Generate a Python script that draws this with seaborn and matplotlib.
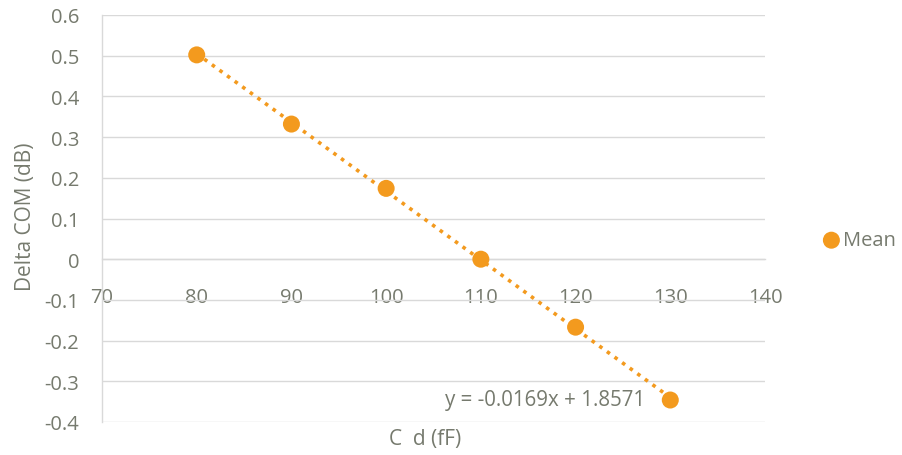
import matplotlib
matplotlib.use("Agg")
import matplotlib.pyplot as plt
import seaborn as sns
import numpy as np
import pandas as pd

cd_ff = [80, 90, 100, 110, 120, 130]
delta_com = [0.502, 0.332, 0.174, 0.0, -0.167, -0.346]
slope = -0.0169
intercept = 1.8571
x_ticks = [70, 80, 90, 100, 110, 120, 130, 140]
y_ticks = [-0.4, -0.3, -0.2, -0.1, 0, 0.1, 0.2, 0.3, 0.4, 0.5, 0.6]
y_tick_labels = ["-0.4", "-0.3", "-0.2", "-0.1", "0", "0.1", "0.2", "0.3", "0.4", "0.5", "0.6"]

sns.set_style("white")
plt.rcParams['font.family'] = ['Open Sans', 'DejaVu Sans']

txt = '#767a6e'
orange = '#F39A1E'
grid = '#d9d9d9'
fs = 14.5

df = pd.DataFrame({"C d (fF)": cd_ff, "Delta COM (dB)": delta_com})
trend = pd.DataFrame({"x": [cd_ff[0], cd_ff[-1]]})
trend["y"] = slope * trend["x"] + intercept

fig = plt.figure(figsize=(9.02, 4.56), dpi=100)
ax = fig.add_axes([102/902, 33/456, 663/902, 407/456])

sns.lineplot(data=trend, x="x", y="y", ax=ax, color=orange, linestyle=(0, (1, 1.6)),
             linewidth=2.6, legend=False, zorder=3)
sns.scatterplot(data=df, x="C d (fF)", y="Delta COM (dB)", ax=ax, color=orange, s=150,
                edgecolor='none', label="Mean", zorder=4)

ax.set_xlim(70, 140)
ax.set_ylim(-0.4, 0.6)
ax.set_xticks(x_ticks)
ax.set_xticklabels([str(v) for v in x_ticks])
ax.set_yticks(y_ticks)
ax.set_yticklabels(y_tick_labels)
ax.yaxis.grid(True, color=grid, linewidth=1)
ax.set_axisbelow(True)

for s in ['top', 'right']:
    ax.spines[s].set_visible(False)
ax.spines['bottom'].set_position(('data', 0))
ax.spines['bottom'].set_color(grid)
ax.spines['left'].set_color(grid)
ax.spines['bottom'].set_linewidth(1)
ax.spines['left'].set_linewidth(1)

ax.tick_params(axis='both', length=0, labelsize=fs, labelcolor=txt)
ax.tick_params(axis='x', pad=20)
ax.tick_params(axis='y', pad=16.5)

ax.set_xlabel("")
ax.set_ylabel("")
fig.text(425/902, 1 - 440/456, "C  d (fF)", ha='center', va='center', fontsize=fs + 0.5, color=txt)
fig.text(26/902, 1 - 217/456, "Delta COM (dB)", ha='center', va='center', rotation=90,
         fontsize=fs + 0.5, color=txt)

ax.text(127.3, -0.345, "y = -0.0169x + 1.8571", ha='right', va='center', fontsize=fs + 0.3, color=txt)

leg = ax.legend(loc='center left', bbox_to_anchor=(1.0485, 0.446), frameon=False,
                fontsize=fs, handletextpad=-0.22, handlelength=1.6, markerscale=1.0)
for t in leg.get_texts():
    t.set_color(txt)

fig.savefig("out.png", dpi=100)
